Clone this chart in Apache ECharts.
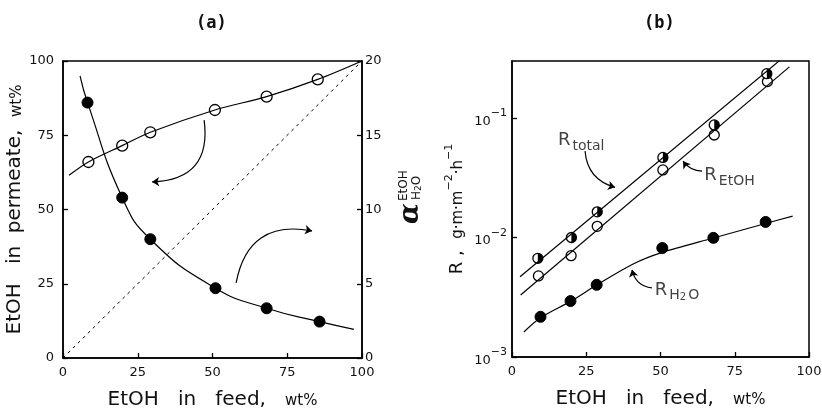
<!DOCTYPE html>
<html><head><meta charset="utf-8">
<script src="https://cdn.jsdelivr.net/npm/echarts@6/dist/echarts.min.js"></script>
<style>html,body{margin:0;padding:0;background:#fff}#c{width:822px;height:412px}</style>
</head><body><div id="c"></div>
<script>
// ---------- Panel (a) ----------
const feedPerm = [8.5, 19.8, 29.2, 50.8, 68.1, 85.2];
const permeate = [66, 71.5, 76, 83.5, 88, 93.8];
const feedAlpha = [8.2, 19.8, 29.2, 51, 68.1, 85.8];
const alphaVals = [17.2, 10.8, 8.0, 4.7, 3.35, 2.45];
const permFitX = [2, 8.5, 19.8, 29.2, 50.8, 68.1, 85.2, 100];
const permFitY = [61.5, 66, 71.5, 76, 83.5, 88, 93.8, 100];
const alphaFitX = [5.7, 8.2, 19.8, 29.2, 51, 68.1, 85.8, 97.3];
const alphaFitY = [19.0, 17.2, 10.8, 8.0, 4.7, 3.35, 2.45, 1.93];
const diagX = [0, 100];
const diagY = [0, 100];
// annotation arrows in (a): [x1, y1, x2, y2, curveness] (left-axis units)
const arrowsA = [[47.2, 80.1, 29.8, 59.3, 0.55], [57.9, 25.3, 83.3, 42.8, 0.5]];

// ---------- Panel (b) ----------
const feedB = [8.7, 20.0, 28.7, 50.8, 68.1, 85.8];
const rTotal = [0.0067, 0.0100, 0.0164, 0.0468, 0.0875, 0.235];
const feedEtOH = [8.9, 19.9, 28.7, 50.8, 68.1, 86.0];
const rEtOH = [0.00477, 0.00705, 0.0124, 0.0368, 0.0721, 0.202];
const feedH2O = [9.6, 19.7, 28.5, 50.6, 67.8, 85.4];
const rH2O = [0.00217, 0.00294, 0.00402, 0.00817, 0.00993, 0.0135];
const totalFitX = [2.7, 90.2];
const totalFitY = [0.0047, 0.304];
const etohFitX = [2.9, 93.4];
const etohFitY = [0.0033, 0.268];
const h2oFitX = [4.0, 9.6, 19.7, 28.5, 40.8, 50.6, 67.8, 85.4, 94.5];
const h2oFitY = [0.00162, 0.00213, 0.00292, 0.0040, 0.0060, 0.0075, 0.0099, 0.0131, 0.0151];
// annotation arrows in (b)
const arrowsB = [[24.6, 0.0528, 34.7, 0.0263, -0.35], [64.0, 0.0359, 57.6, 0.0435, 0.25], [47.1, 0.00379, 40.4, 0.00537, 0.35]];
// annotation labels in (b): [x, y, text]
const labelsB = [[15.3, 0.0624, '{R|R}{s|total}'], [64.6, 0.0319, '{R|R}{s|EtOH}'], [47.9, 0.00351, '{R|R}{s|H}{ss|2}{s|O}']];

const FONT = 'DejaVu Sans';
const zip = (a, b) => a.map((v, i) => [v, b[i]]);
const chart = echarts.init(document.getElementById('c'), null, {renderer: 'canvas'});

const axLine = {show: true, lineStyle: {color: '#000', width: 1.5}};
const axTick = {show: true, inside: true, length: 5, lineStyle: {color: '#000', width: 1.3}};
const lblStyle = {color: '#111', fontFamily: FONT, fontSize: 13};
const nameRich = {
  m: {fontFamily: FONT, fontSize: 20, color: '#111'},
  s: {fontFamily: FONT, fontSize: 15, color: '#111', padding: [3, 0, 0, 0]}
};

function xAxisDef(gi) {
  return {
    type: 'value', gridIndex: gi, min: 0, max: 100, interval: 25,
    axisLine: axLine, axisTick: axTick, splitLine: {show: false},
    axisLabel: Object.assign({margin: 8}, lblStyle),
    name: '{m|EtOH   in   feed,   }{s|wt%}', nameLocation: 'middle', nameGap: 32,
    nameTextStyle: {rich: nameRich}
  };
}

function arrowSeries(arr, xi, yi) {
  return {
    type: 'lines', coordinateSystem: 'cartesian2d', xAxisIndex: xi, yAxisIndex: yi,
    symbol: ['none', 'arrow'], symbolSize: 7, silent: true,
    lineStyle: {color: '#000', width: 1.2, opacity: 1},
    data: arr.map(a => ({coords: [[a[0], a[1]], [a[2], a[3]]], lineStyle: {curveness: a[4]}}))
  };
}

const option = {
  animation: false,
  backgroundColor: '#fff',
  title: [
    {text: '(a)', left: 196, top: 15, padding: 0, textStyle: {fontFamily: 'DejaVu Sans Mono', fontWeight: 'bold', fontSize: 17, color: '#111'}},
    {text: '(b)', left: 644, top: 15, padding: 0, textStyle: {fontFamily: 'DejaVu Sans Mono', fontWeight: 'bold', fontSize: 17, color: '#111'}}
  ],
  grid: [
    {left: 63, right: 460, top: 61, bottom: 54, outerBoundsMode: 'none', containLabel: false, show: true, borderColor: '#000', borderWidth: 1.5, backgroundColor: 'transparent'},
    {left: 512, right: 13, top: 61, bottom: 55, outerBoundsMode: 'none', containLabel: false, show: true, borderColor: '#000', borderWidth: 1.5, backgroundColor: 'transparent'}
  ],
  xAxis: [xAxisDef(0), xAxisDef(1)],
  yAxis: [
    {
      type: 'value', gridIndex: 0, min: 0, max: 100, interval: 25, position: 'left',
      axisLine: axLine, axisTick: axTick, splitLine: {show: false},
      axisLabel: Object.assign({margin: 9}, lblStyle),
      name: '{m|EtOH   in  permeate,  }{s|wt%}', nameLocation: 'middle', nameGap: 33,
      nameTextStyle: {rich: nameRich}
    },
    {
      type: 'value', gridIndex: 0, min: 0, max: 20, interval: 5, position: 'right',
      axisLine: axLine, axisTick: axTick, splitLine: {show: false},
      axisLabel: Object.assign({margin: 3}, lblStyle)
    },
    {
      type: 'log', logBase: 10, gridIndex: 1, min: 0.001, max: 0.3,
      axisLine: axLine, axisTick: axTick, minorTick: {show: false}, splitLine: {show: false},
      axisLabel: {
        margin: 5, showMaxLabel: false,
        formatter: function (v) {
          const l = Math.log10(v), e = Math.round(l);
          if (Math.abs(l - e) > 1e-6) return '';
          return '{b|10}{s|\u2212' + (-e) + '}';
        },
        rich: {
          b: {fontFamily: FONT, fontSize: 13, color: '#111', verticalAlign: 'bottom', lineHeight: 20},
          s: {fontFamily: FONT, fontSize: 11, color: '#111', verticalAlign: 'top', lineHeight: 20}
        }
      },
      name: '{R|R ,  }{u|g\u00b7m\u00b7m}{s|\u22122}{u|\u00b7h}{s|\u22121}', nameLocation: 'middle', nameGap: 46,
      nameTextStyle: {rich: {
        R: {fontFamily: FONT, fontSize: 18, color: '#111', verticalAlign: 'bottom', lineHeight: 22},
        u: {fontFamily: FONT, fontSize: 15, color: '#111', verticalAlign: 'bottom', lineHeight: 22},
        s: {fontFamily: FONT, fontSize: 11, color: '#111', verticalAlign: 'top', lineHeight: 22}
      }}
    }
  ],
  graphic: [{
    type: 'group', x: 411, y: 224, rotation: Math.PI / 2, silent: true,
    children: [
      {type: 'text', x: 0, y: 0, style: {text: '\u03b1', font: 'italic bold 27px "DejaVu Serif"', fill: '#111', align: 'left', verticalAlign: 'middle'}},
      {type: 'text', x: 23, y: -7, style: {text: 'EtOH', font: '12px "DejaVu Sans"', fill: '#111', align: 'left', verticalAlign: 'middle'}},
      {type: 'text', x: 24, y: 6, style: {rich: {a: {font: '12px "DejaVu Sans"', fill: '#111'}, b: {font: '9px "DejaVu Sans"', fill: '#111', padding: [4, 0, 0, 0]}}, text: '{a|H}{b|2}{a|O}', align: 'left', verticalAlign: 'middle'}}
    ]
  }],
  series: [
    // ----- panel (a) -----
    {type: 'line', xAxisIndex: 0, yAxisIndex: 0, data: zip(diagX, diagY), symbol: 'none', silent: true,
      lineStyle: {color: '#000', width: 1, type: [3, 4]}},
    {type: 'line', xAxisIndex: 0, yAxisIndex: 0, data: zip(permFitX, permFitY), symbol: 'none', smooth: 0.3, silent: true,
      lineStyle: {color: '#000', width: 1.2}},
    {type: 'line', xAxisIndex: 0, yAxisIndex: 1, data: zip(alphaFitX, alphaFitY), symbol: 'none', smooth: 0.5, silent: true,
      lineStyle: {color: '#000', width: 1.2}},
    {type: 'scatter', xAxisIndex: 0, yAxisIndex: 0, data: zip(feedPerm, permeate), symbol: 'circle', symbolSize: 11,
      itemStyle: {color: '#fff', borderColor: '#000', borderWidth: 1.3, opacity: 1}},
    {type: 'scatter', xAxisIndex: 0, yAxisIndex: 1, data: zip(feedAlpha, alphaVals), symbol: 'circle', symbolSize: 11,
      itemStyle: {color: '#000', borderColor: '#000', borderWidth: 1, opacity: 1}},
    arrowSeries(arrowsA, 0, 0),
    // ----- panel (b) -----
    {type: 'line', xAxisIndex: 1, yAxisIndex: 2, data: zip(totalFitX, totalFitY), symbol: 'none', silent: true,
      lineStyle: {color: '#000', width: 1.2}},
    {type: 'line', xAxisIndex: 1, yAxisIndex: 2, data: zip(etohFitX, etohFitY), symbol: 'none', silent: true,
      lineStyle: {color: '#000', width: 1.2}},
    {type: 'line', xAxisIndex: 1, yAxisIndex: 2, data: zip(h2oFitX, h2oFitY), symbol: 'none', smooth: 0.3, silent: true,
      lineStyle: {color: '#000', width: 1.2}},
    {type: 'scatter', xAxisIndex: 1, yAxisIndex: 2, data: zip(feedEtOH, rEtOH), symbol: 'circle', symbolSize: 10,
      itemStyle: {color: '#fff', borderColor: '#000', borderWidth: 1.3, opacity: 1}},
    {type: 'scatter', xAxisIndex: 1, yAxisIndex: 2, data: zip(feedB, rTotal), symbol: 'circle', symbolSize: 10,
      itemStyle: {color: '#fff', borderColor: '#000', borderWidth: 1.3, opacity: 1}},
    {type: 'scatter', xAxisIndex: 1, yAxisIndex: 2, data: zip(feedB, rTotal), symbol: 'path://M0,0 A10,10 0 0 1 0,20 Z',
      symbolSize: [5, 10], symbolOffset: [2.5, 0], itemStyle: {color: '#000', borderWidth: 0, opacity: 1}, silent: true},
    {type: 'scatter', xAxisIndex: 1, yAxisIndex: 2, data: zip(feedH2O, rH2O), symbol: 'circle', symbolSize: 11,
      itemStyle: {color: '#000', borderColor: '#000', borderWidth: 1, opacity: 1}},
    arrowSeries(arrowsB, 1, 2),
    {type: 'scatter', xAxisIndex: 1, yAxisIndex: 2, silent: true, symbolSize: 1,
      itemStyle: {color: 'rgba(0,0,0,0)'},
      data: labelsB.map(l => ({value: [l[0], l[1]], label: {formatter: l[2]}})),
      label: {show: true, position: 'right', distance: 0, color: '#111',
        rich: {
          R: {fontFamily: FONT, fontSize: 18, color: '#111', verticalAlign: 'top', lineHeight: 22},
          s: {fontFamily: FONT, fontSize: 14, color: '#111', verticalAlign: 'bottom', lineHeight: 22, padding: [0, 0, 0, 2]},
          ss: {fontFamily: FONT, fontSize: 10, color: '#111', verticalAlign: 'bottom', lineHeight: 18}
        }}
    }
  ]
};
chart.setOption(option);
</script>
</body></html>
